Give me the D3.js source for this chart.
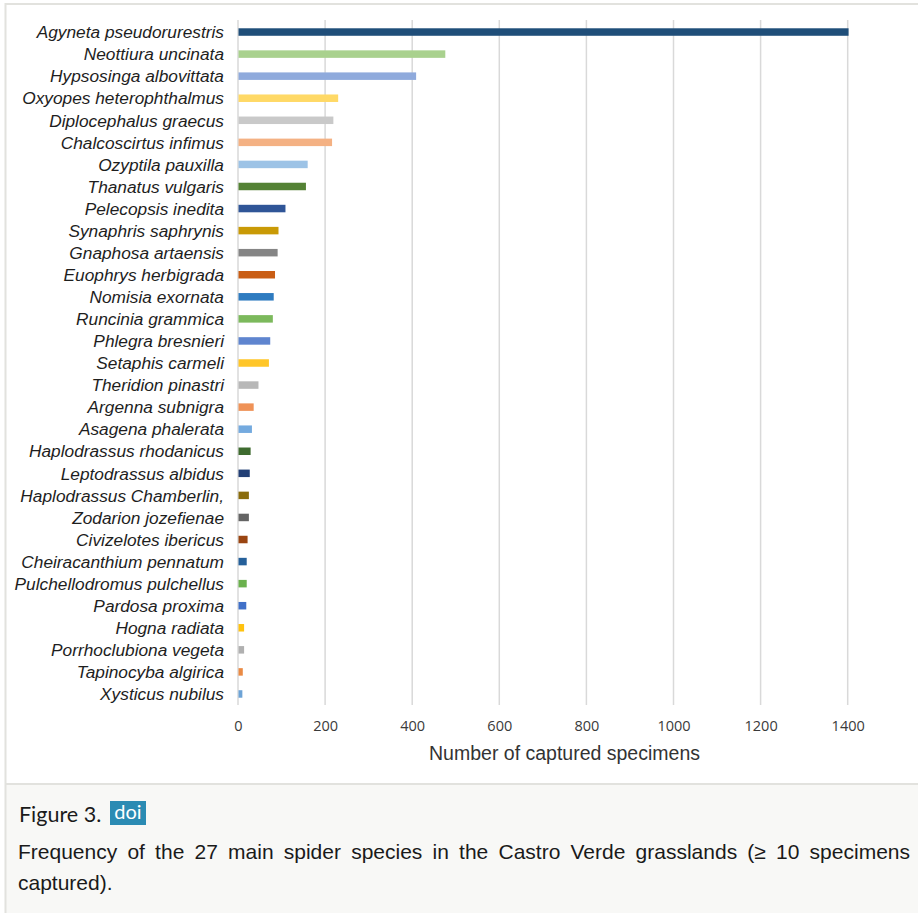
<!DOCTYPE html>
<html>
<head>
<meta charset="utf-8">
<script src="https://cdn.jsdelivr.net/npm/d3@7"></script>
<style>
body { margin: 0; background: #fff; }
#root { position: relative; width: 918px; height: 913px; overflow: hidden; }
#caption {
  position: absolute; left: 18px; top: 837px; width: 892px;
  font-family: "Liberation Sans", Arial, sans-serif; font-size: 21px;
  line-height: 30.5px; color: #1a1a1a; text-align: justify;
}
</style>
</head>
<body>
<div id="root"></div>
<script>
// species, top to bottom
var species = [
  "Agyneta pseudorurestris", "Neottiura uncinata", "Hypsosinga albovittata",
  "Oxyopes heterophthalmus", "Diplocephalus graecus", "Chalcoscirtus infimus",
  "Ozyptila pauxilla", "Thanatus vulgaris", "Pelecopsis inedita",
  "Synaphris saphrynis", "Gnaphosa artaensis", "Euophrys herbigrada",
  "Nomisia exornata", "Runcinia grammica", "Phlegra bresnieri",
  "Setaphis carmeli", "Theridion pinastri", "Argenna subnigra",
  "Asagena phalerata", "Haplodrassus rhodanicus", "Leptodrassus albidus",
  "Haplodrassus Chamberlin,", "Zodarion jozefienae", "Civizelotes ibericus",
  "Cheiracanthium pennatum", "Pulchellodromus pulchellus", "Pardosa proxima",
  "Hogna radiata", "Porrhoclubiona vegeta", "Tapinocyba algirica",
  "Xysticus nubilus"
];
var counts = [
  1402, 476, 409, 230, 219, 216, 160, 156, 109, 93, 91, 85, 82, 80, 74,
  71, 47, 36, 32, 29, 27, 25, 25, 22, 20, 20, 19, 14, 14, 11, 10
];
var barColors = [
  "#1f4e79", "#a9d18e", "#8faadc", "#ffd966", "#c9c9c9", "#f4b183",
  "#9dc3e6", "#548235", "#2f5597", "#c99a06", "#858585", "#c95d14",
  "#2e7bc0", "#7cb95c", "#5f85cf", "#ffc629", "#b8b8b8", "#ef9257",
  "#74aadf", "#3e6b2f", "#223f75", "#8a6c0c", "#646464", "#9a4511",
  "#25609a", "#6bb14e", "#4070c8", "#ffc20e", "#b0b0b0", "#ea8a44",
  "#6da3d6"
];
var xTicks = [0, 200, 400, 600, 800, 1000, 1200, 1400];

var W = 918, H = 913;
var svg = d3.select("#root").append("svg")
    .attr("width", W).attr("height", H)
    .style("position", "absolute").style("left", 0).style("top", 0);

// page frame and caption panel
svg.append("rect").attr("x", 6).attr("y", 785).attr("width", W - 6).attr("height", H - 785)
    .attr("fill", "#f8f8f6");
svg.append("line").attr("x1", 5).attr("x2", W).attr("y1", 4).attr("y2", 4)
    .attr("stroke", "#e2e2de").attr("stroke-width", 2);
svg.append("line").attr("x1", 5).attr("x2", W).attr("y1", 784).attr("y2", 784)
    .attr("stroke", "#e2e2de").attr("stroke-width", 2);
svg.append("line").attr("x1", 5.5).attr("x2", 5.5).attr("y1", 3).attr("y2", H)
    .attr("stroke", "#e2e2de").attr("stroke-width", 2);

var x = d3.scaleLinear().domain([0, 1400]).range([238, 847.7]);
var y = d3.scaleBand().domain(species).range([21, 705]);
var barH = 7.5;

// gridlines
svg.append("g").selectAll("line")
    .data(xTicks)
  .enter().append("line")
    .attr("x1", function(d) { return x(d); })
    .attr("x2", function(d) { return x(d); })
    .attr("y1", 20).attr("y2", 705)
    .attr("stroke", "#d9d9d9").attr("stroke-width", 1.5);

// bars
svg.append("g").selectAll("rect")
    .data(counts)
  .enter().append("rect")
    .attr("x", x(0) + 0.5)
    .attr("y", function(d, i) { return y(species[i]) + y.bandwidth() / 2 - barH / 2; })
    .attr("width", function(d) { return x(d) - x(0) - 0.5; })
    .attr("height", barH)
    .attr("fill", function(d, i) { return barColors[i]; });

// species labels
svg.append("g").selectAll("text")
    .data(species)
  .enter().append("text")
    .attr("x", 224)
    .attr("y", function(d) { return y(d) + y.bandwidth() / 2; })
    .attr("dy", "0.36em")
    .attr("text-anchor", "end")
    .style("font-family", "'Liberation Sans', Arial, sans-serif")
    .style("font-style", "italic")
    .style("font-size", "17.3px")
    .style("fill", "#1e1e1e")
    .text(function(d) { return d; });

// x axis tick labels
var xAxis = d3.axisBottom(x).tickValues(xTicks).tickFormat(d3.format("d"))
    .tickSize(0).tickPadding(0);
var gx = svg.append("g").attr("transform", "translate(0,721)").call(xAxis);
gx.select(".domain").remove();
gx.selectAll("text")
    .style("font-family", "'Open Sans', sans-serif")
    .style("font-size", "14.5px")
    .style("fill", "#3a3a3a");

svg.append("text")
    .attr("x", 564.5).attr("y", 760)
    .attr("text-anchor", "middle")
    .style("font-family", "'Liberation Sans', Arial, sans-serif")
    .style("font-size", "19.5px")
    .style("fill", "#333")
    .text("Number of captured specimens");

// figure label with doi badge
svg.append("text")
    .attr("x", 19).attr("y", 822)
    .style("font-family", "Lato, sans-serif")
    .style("font-size", "21.5px")
    .style("fill", "#1a1a1a")
    .text("Figure 3.");
svg.append("rect").attr("x", 110).attr("y", 801).attr("width", 36).attr("height", 24)
    .attr("fill", "#2b8bb3");
svg.append("text")
    .attr("x", 128).attr("y", 819)
    .attr("text-anchor", "middle")
    .style("font-family", "Lato, sans-serif")
    .style("font-size", "20px")
    .style("fill", "#fff")
    .text("doi");

d3.select("#root").append("div").attr("id", "caption")
    .text("Frequency of the 27 main spider species in the Castro Verde grasslands (\u2265 10 specimens captured).");
</script>
</body>
</html>
